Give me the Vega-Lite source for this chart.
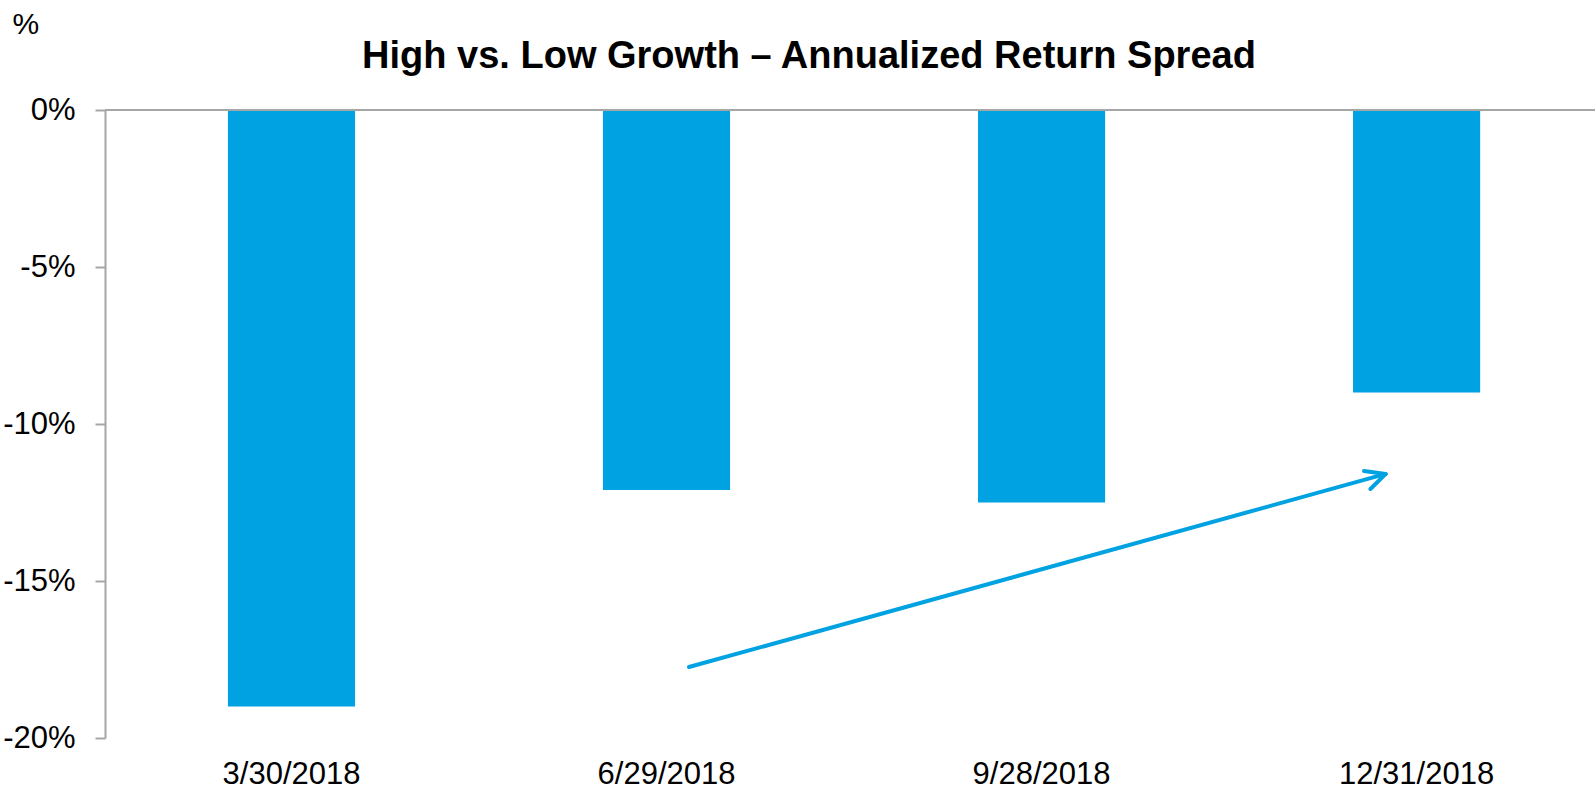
{
  "$schema": "https://vega.github.io/schema/vega-lite/v6.json",
  "width": 1490,
  "height": 628,
  "autosize": {"type": "none"},
  "padding": {"left": 105, "top": 110, "right": 0, "bottom": 53},
  "background": "white",
  "config": {"view": {"stroke": null}, "font": "Liberation Sans"},
  "title": {
    "text": "High vs. Low Growth – Annualized Return Spread",
    "font": "Liberation Sans",
    "fontSize": 38,
    "fontWeight": "bold",
    "color": "black",
    "anchor": "middle",
    "frame": "group",
    "baseline": "alphabetic",
    "offset": 0,
    "dx": -41,
    "dy": 97
  },
  "datasets": {
    "bars": [
      {"date": "3/30/2018", "value": -19.0},
      {"date": "6/29/2018", "value": -12.1},
      {"date": "9/28/2018", "value": -12.5},
      {"date": "12/31/2018", "value": -9.0}
    ],
    "zero": [{"value": 0}],
    "arrow": [
      {"seg": "shaft", "ord": 0, "pos": 1.06, "value": -17.74},
      {"seg": "shaft", "ord": 1, "pos": 2.918, "value": -11.59},
      {"seg": "head", "ord": 0, "pos": 2.86, "value": -11.50},
      {"seg": "head", "ord": 1, "pos": 2.918, "value": -11.59},
      {"seg": "head", "ord": 2, "pos": 2.877, "value": -12.07}
    ]
  },
  "layer": [
    {
      "data": {"name": "bars"},
      "mark": {"type": "bar", "color": "#00A2E1"},
      "encoding": {
        "x": {
          "field": "date",
          "type": "nominal",
          "sort": null,
          "scale": {"paddingInner": 0.661, "paddingOuter": 0.317, "align": 0.517},
          "axis": {
            "orient": "bottom",
            "title": null,
            "domain": false,
            "ticks": false,
            "labelAngle": 0,
            "labelFontSize": 31,
            "labelColor": "black",
            "labelBaseline": "alphabetic",
            "labelPadding": 45
          }
        },
        "y": {
          "field": "value",
          "type": "quantitative",
          "scale": {"domain": [-20, 0], "nice": false},
          "axis": {
            "values": [-20, -15, -10, -5, 0],
            "labelExpr": "datum.value + '%'",
            "grid": false,
            "domainColor": "#a6a6a6",
            "domainWidth": 2,
            "tickColor": "#a6a6a6",
            "tickWidth": 2,
            "tickSize": 10,
            "labelPadding": 20,
            "labelFontSize": 31,
            "labelColor": "black",
            "title": "%",
            "titleAngle": 0,
            "titleAlign": "left",
            "titleBaseline": "alphabetic",
            "titleX": -93,
            "titleY": -77,
            "titleFontSize": 30,
            "titleFontWeight": "normal",
            "titleColor": "black"
          }
        }
      }
    },
    {
      "data": {"name": "zero"},
      "mark": {"type": "rule", "color": "#a6a6a6", "strokeWidth": 2},
      "encoding": {"y": {"field": "value", "type": "quantitative"}}
    },
    {
      "data": {"name": "arrow"},
      "mark": {"type": "line", "color": "#00A2E1", "strokeWidth": 4, "strokeCap": "round", "strokeJoin": "round"},
      "encoding": {
        "x": {
          "field": "pos",
          "type": "quantitative",
          "scale": {"domain": [-0.4973, 3.476], "nice": false, "zero": false},
          "axis": null
        },
        "y": {"field": "value", "type": "quantitative"},
        "detail": {"field": "seg"},
        "order": {"field": "ord"}
      }
    }
  ],
  "resolve": {"scale": {"x": "independent"}}
}
